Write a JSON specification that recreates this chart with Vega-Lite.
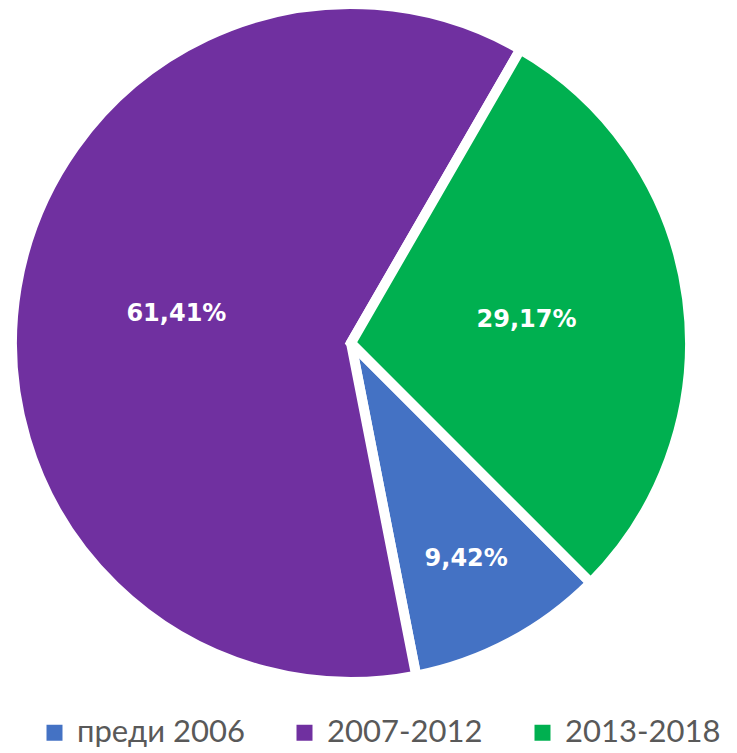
{
  "$schema": "https://vega.github.io/schema/vega-lite/v6.json",
  "autosize": {"type": "none"},
  "width": 702,
  "height": 686,
  "padding": {"left": 0, "top": 0, "right": 35, "bottom": 67},
  "background": "white",
  "view": {"stroke": null},
  "data": {
    "values": [
      {"category": "преди 2006", "value": 9.42, "label": "9,42%"},
      {"category": "2007-2012", "value": 61.41, "label": "61,41%"},
      {"category": "2013-2018", "value": 29.17, "label": "29,17%"}
    ]
  },
  "encoding": {
    "theta": {"field": "value", "type": "quantitative", "stack": true, "scale": {"range": [2.948, 9.2312]}},
    "order": {"field": "category", "sort": "ascending"}
  },
  "layer": [
    {
      "mark": {"type": "arc", "outerRadius": 339, "stroke": "white", "strokeWidth": 10},
      "encoding": {
        "color": {
          "field": "category",
          "type": "nominal",
          "scale": {"domain": ["преди 2006", "2007-2012", "2013-2018"], "range": ["#4472C4", "#7030A0", "#00B050"]},
          "legend": {
            "title": null,
            "orient": "none",
            "legendX": 39,
            "legendY": 717,
            "padding": 0,
            "direction": "horizontal",
            "columns": 3,
            "columnPadding": 44,
            "symbolType": "square",
            "symbolSize": 256,
            "symbolStrokeWidth": 0,
            "labelFont": "Lato",
            "labelFontSize": 31,
            "labelColor": "#595959",
            "labelLimit": 300,
            "labelOffset": 7
          }
        }
      }
    },
    {
      "mark": {"type": "text", "font": "DejaVu Sans", "fontSize": 24, "fontWeight": "bold", "fill": "white"},
      "encoding": {
        "text": {"field": "label"},
        "radius": {
          "field": "value",
          "type": "quantitative",
          "scale": {"type": "linear", "domain": [9.42, 29.17], "range": [245, 177], "clamp": true, "zero": false},
          "legend": null
        }
      }
    }
  ]
}
